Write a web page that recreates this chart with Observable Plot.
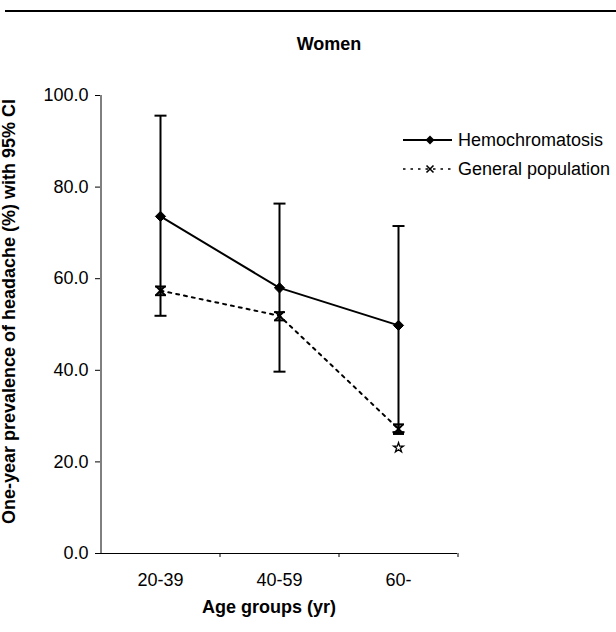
<!DOCTYPE html>
<html>
<head>
<meta charset="utf-8">
<script src="https://cdn.jsdelivr.net/npm/d3@7"></script>
<script src="https://cdn.jsdelivr.net/npm/@observablehq/plot@0.6"></script>
<style>
  html, body { margin: 0; padding: 0; background: white; }
  #wrap { position: relative; width: 616px; height: 632px; overflow: hidden; font-family: 'Liberation Sans', Arial, sans-serif; }
  #rule { position: absolute; left: 5px; top: 10px; width: 611px; height: 2px; background: black; }
  .leg { position: absolute; left: 400px; height: 24px; display: flex; align-items: center; font-size: 18px; color: black; white-space: nowrap; }
  .leg svg { display: block; margin-right: 4px; }
</style>
</head>
<body>
<div id="wrap">
  <div id="rule"></div>
</div>
<script>
// ---- data ----
const title = "Women";
const xLabel = "Age groups (yr)";
const yLabel = "One-year prevalence of headache (%) with 95% CI";
const ageGroups = ["20-39", "40-59", "60-"];
const yTicks = [0, 20, 40, 60, 80, 100];

const hemoName = "Hemochromatosis";
const hemoPrev = [73.6, 58.0, 49.8];
const hemoLow  = [51.9, 39.7, 26.5];
const hemoHigh = [95.6, 76.4, 71.5];

const genName = "General population";
const genPrev = [57.4, 51.9, 27.2];
const genLow  = [56.4, 50.9, 26.1];
const genHigh = [58.3, 52.7, 28.2];

const starAge = ["60-"];
const starValue = [23.1];

// ---- tables built from arrays ----
const hemo = ageGroups.map((a, i) => ({age: a, v: hemoPrev[i], lo: hemoLow[i], hi: hemoHigh[i]}));
const gen = ageGroups.map((a, i) => ({age: a, v: genPrev[i], lo: genLow[i], hi: genHigh[i]}));
const star = starAge.map((a, i) => ({age: a, v: starValue[i]}));

const W = 616, H = 632, ML = 100, MR = 159, MT = 95, MB = 79;
const step = (W - ML - MR) / ageGroups.length;

// horizontal cap symbol
const cap = {
  draw(ctx, size) {
    const r = Math.sqrt(size / Math.PI);
    ctx.moveTo(-r, 0);
    ctx.lineTo(r, 0);
  }
};

const chart = Plot.plot({
  width: W,
  height: H,
  marginLeft: ML,
  marginRight: MR,
  marginTop: MT,
  marginBottom: MB,
  style: {fontFamily: "'Liberation Sans', Arial, sans-serif", fontSize: "18px", color: "black", background: "transparent", overflow: "visible"},
  x: {type: "point", domain: ageGroups, padding: 0.5, label: null},
  y: {domain: [0, 100], label: null},
  marks: [
    Plot.axisY({ticks: yTicks, tickFormat: d3.format(".1f"), tickSize: 5, tickPadding: 7, label: null, fontSize: 18}),
    Plot.axisX({tickSize: 0, tickPadding: 20, label: null, fontSize: 18}),
    Plot.axisX({ticks: ageGroups, tickSize: 4, tickFormat: () => "", dx: step / 2, label: null}),
    Plot.ruleY([0], {stroke: "black", strokeWidth: 1}),
    Plot.ruleX([ageGroups[0]], {dx: -step / 2, y1: 0, y2: 100, stroke: "black", strokeWidth: 1}),

    // hemochromatosis CI
    Plot.ruleX(hemo, {x: "age", y1: "lo", y2: "hi", stroke: "black", strokeWidth: 2}),
    Plot.dot(hemo, {x: "age", y: "hi", symbol: cap, r: 6, fill: "none", stroke: "black", strokeWidth: 2}),
    Plot.dot(hemo, {x: "age", y: "lo", symbol: cap, r: 6, fill: "none", stroke: "black", strokeWidth: 2}),

    // general population
    Plot.line(gen, {x: "age", y: "v", stroke: "black", strokeWidth: 2, strokeDasharray: "3,5"}),
    Plot.ruleX(gen, {x: "age", y1: "lo", y2: "hi", stroke: "black", strokeWidth: 2}),
    Plot.dot(gen, {x: "age", y: "hi", symbol: cap, r: 5.5, fill: "none", stroke: "black", strokeWidth: 2}),
    Plot.dot(gen, {x: "age", y: "lo", symbol: cap, r: 5.5, fill: "none", stroke: "black", strokeWidth: 2}),
    Plot.dot(gen, {x: "age", y: "v", symbol: "times", r: 4, stroke: "black", strokeWidth: 2}),

    // hemochromatosis line and markers
    Plot.line(hemo, {x: "age", y: "v", stroke: "black", strokeWidth: 2}),
    Plot.dot(hemo, {x: "age", y: "v", symbol: "diamond2", r: 4.6, fill: "black", stroke: "black", strokeWidth: 1}),

    // star marker
    Plot.dot(star, {x: "age", y: "v", symbol: "star", r: 3.1, fill: "white", stroke: "black", strokeWidth: 1.3}),

    // texts
    Plot.text([title], {frameAnchor: "top", dx: 50, dy: -58, fontWeight: "bold", fontSize: 18}),
    Plot.text([xLabel], {frameAnchor: "bottom", dx: -10, dy: 59, fontWeight: "bold", fontSize: 18}),
    Plot.text([yLabel], {frameAnchor: "left", textAnchor: "middle", rotate: -90, dx: -91, dy: -13, fontWeight: "bold", fontSize: 18})
  ]
});

const wrap = document.getElementById("wrap");
chart.style.position = "absolute";
chart.style.left = "0px";
chart.style.top = "0px";
wrap.appendChild(chart);

// legend
function legendRow(name, top, dashed, sym) {
  const row = document.createElement("div");
  row.className = "leg";
  row.style.top = top + "px";
  const ns = "http://www.w3.org/2000/svg";
  const svg = document.createElementNS(ns, "svg");
  svg.setAttribute("width", 54);
  svg.setAttribute("height", 24);
  const line = document.createElementNS(ns, "line");
  line.setAttribute("x1", 3); line.setAttribute("x2", 52);
  line.setAttribute("y1", 12); line.setAttribute("y2", 12);
  line.setAttribute("stroke", "black");
  line.setAttribute("stroke-width", dashed ? 1.5 : 2);
  if (dashed) line.setAttribute("stroke-dasharray", "2.5,5");
  svg.appendChild(line);
  const p = document.createElementNS(ns, "path");
  if (sym === "diamond") {
    p.setAttribute("d", "M30,7.5L34.5,12L30,16.5L25.5,12Z");
    p.setAttribute("fill", "black");
  } else {
    p.setAttribute("d", "M26.5,8.5L33.5,15.5M33.5,8.5L26.5,15.5");
    p.setAttribute("stroke", "black");
    p.setAttribute("stroke-width", 1.6);
    p.setAttribute("fill", "none");
  }
  svg.appendChild(p);
  row.appendChild(svg);
  const t = document.createElement("span");
  t.textContent = name;
  row.appendChild(t);
  wrap.appendChild(row);
}
legendRow(hemoName, 128, false, "diamond");
legendRow(genName, 157, true, "times");
</script>
</body>
</html>
